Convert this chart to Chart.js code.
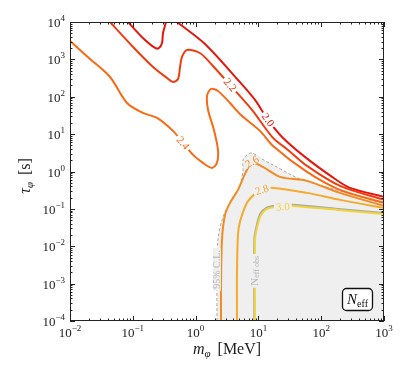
<!DOCTYPE html>
<html>
<head>
<meta charset="utf-8">
<script src="https://cdn.jsdelivr.net/npm/chart.js@4.4.0/dist/chart.umd.min.js"></script>
<style>
  html, body { margin: 0; padding: 0; background: #fff; }
  #wrap { width: 411px; height: 377px; }
</style>
</head>
<body>
<div id="wrap"><canvas id="myChart" width="411" height="377"></canvas></div>
<script>
// axis ranges (m_phi in MeV, tau_phi in s)
const massRange = [0.01, 1000];
const tauRange = [1e-4, 1e4];
const massTickExp = [-2, -1, 0, 1, 2, 3];
const tauTickExp = [-4, -3, -2, -1, 0, 1, 2, 3, 4];

// N_eff = 2.0, main branch
const c20_m = [0.506, 1.41, 4.73, 8.83, 14.2, 23.8, 55, 149, 288, 1000];
const c20_tau = [1e4, 2580, 281, 82, 24, 8.41, 2.46, 0.718, 0.364, 0.209];
// N_eff = 2.0, small hook at the top
const c20b_m = [0.084, 0.145, 0.226, 0.261, 0.292, 0.303, 0.338];
const c20b_tau = [1e4, 3730, 2020, 2020, 2750, 5080, 1e4];
// N_eff = 2.2
const c22_m = [0.0434, 0.101, 0.21, 0.351, 0.436, 0.525, 0.565, 0.607, 0.729, 1.17, 1.89, 3.53, 7.91, 17.1, 29.6, 59.4, 199, 1000];
const c22_tau = [1e4, 2150, 627, 318, 249, 299, 627, 1160, 1780, 1480, 667, 207, 44.4, 7.9, 3.78, 1.41, 0.412, 0.174];
// N_eff = 2.4
const c24_m = [0.01, 0.0208, 0.0434, 0.081, 0.145, 0.243, 0.436, 0.63, 0.91, 1.31, 1.82, 2.19, 2.27, 1.96, 1.58, 1.52, 1.76, 2.27, 3.53, 5.28, 10.6, 17.1, 59.4, 199, 1000];
const c24_tau = [3100, 1030, 338, 68.2, 36.9, 27.1, 12.2, 5.82, 2.78, 1.7, 1.25, 1.7, 3.78, 12.9, 44.4, 105, 162, 143, 68.2, 32.6, 12.2, 4.83, 0.975, 0.322, 0.145];
// N_eff = 2.6
const c26_m = [2.54, 2.54, 2.63, 2.94, 3.53, 4.73, 6.12, 7.91, 11.8, 22.1, 59.4, 199, 1000];
const c26_tau = [1e-4, 0.00082, 0.0148, 0.069, 0.145, 0.322, 0.862, 1.7, 1.33, 0.718, 0.561, 0.268, 0.12];
// N_eff = 2.8
const c28_m = [4.56, 4.56, 4.73, 5.09, 6.58, 8.83, 11.4, 17.1, 59.4, 199, 1000];
const c28_tau = [1e-4, 0.00195, 0.0202, 0.045, 0.145, 0.252, 0.322, 0.364, 0.268, 0.174, 0.106];
// N_eff = 3.0
const c30_m = [8.83, 8.83, 9.5, 11.0, 13.7, 18.4, 34.3, 185, 1000];
const c30_tau = [1e-4, 0.0148, 0.031, 0.069, 0.1, 0.113, 0.12, 0.094, 0.0734];
// observed N_eff line
const obs_m = [8.6, 8.6, 9.25, 10.7, 13.4, 18.2, 34.3, 185, 1000];
const obs_tau = [1e-4, 0.0148, 0.032, 0.074, 0.107, 0.121, 0.128, 0.1, 0.078];
// 95% C.L. boundary
const cl_m = [2.19, 2.19, 2.27, 2.73, 3.94, 5.09, 5.69, 5.69, 6.58, 7.91, 10.6, 17.1, 45.9, 199, 1000];
const cl_tau = [1e-4, 0.00105, 0.0148, 0.061, 0.209, 0.412, 1.1, 2.04, 2.78, 3.14, 2.31, 1.5, 0.634, 0.303, 0.136];

// inline contour labels
const labelText = ["2.0", "2.2", "2.4", "2.6", "2.8", "3.0"];
const labelM = [14.2, 3.53, 0.63, 7.91, 11.4, 24.6];
const labelTau = [24, 207, 5.8, 1.81, 0.322, 0.113];

const colors = {
  c20: "#e4170f",
  c22: "#ef3d10",
  c24: "#f86a14",
  c26: "#f38b20",
  c28: "#f4aa2c",
  c30: "#f1d43a",
  gray: "#a9a9a9",
  fill: "#efefef"
};
const labelAngle = [54, 48, 50, -30, -18, -3];
const labelColor = [colors.c20, colors.c22, colors.c24, colors.c26, colors.c28, colors.c30];
const labelBg = ["#fff", "#fff", "#fff", colors.fill, colors.fill, colors.fill];

const serif = '"Liberation Serif", "DejaVu Serif", serif';

function pts(ms, taus) {
  return ms.map((m, i) => ({ x: m, y: taus[i] }));
}

function line(ms, taus, color, extra) {
  return Object.assign({
    data: pts(ms, taus),
    showLine: true,
    borderColor: color,
    borderWidth: 2,
    pointRadius: 0,
    tension: 0.3,
    fill: false
  }, extra || {});
}

function richWidth(ctx, parts) {
  let w = 0;
  parts.forEach((p) => { ctx.font = p.font; w += ctx.measureText(p.text).width; });
  return w;
}
function drawRich(ctx, parts, x, y) {
  parts.forEach((p) => {
    ctx.font = p.font;
    ctx.fillText(p.text, x, y + (p.dy || 0));
    x += ctx.measureText(p.text).width + (p.gap || 0);
  });
}
function powParts(e) {
  const s = e < 0 ? "\u2212" + Math.abs(e) : String(e);
  return [
    { text: "10", font: "13px " + serif },
    { text: s, font: "9px " + serif, dy: -6 }
  ];
}

const overlay = {
  id: "overlay",
  afterDatasetsDraw(chart) {
    const { ctx, scales: { x, y } } = chart;
    ctx.save();
    ctx.textAlign = "center";
    ctx.textBaseline = "middle";
    labelText.forEach((t, i) => {
      const px = x.getPixelForValue(labelM[i]);
      const py = y.getPixelForValue(labelTau[i]);
      ctx.save();
      ctx.translate(px, py);
      ctx.rotate(labelAngle[i] * Math.PI / 180);
      ctx.font = "11px " + serif;
      const w = ctx.measureText(t).width;
      ctx.fillStyle = labelBg[i];
      ctx.fillRect(-w / 2 - 2, -3.5, w + 4, 7);
      ctx.fillStyle = labelColor[i];
      ctx.fillText(t, 0, 0.5);
      ctx.restore();
    });

    // vertical notes in the shaded region
    const notes = [
      { parts: [{ text: "95% C.L.", font: "10px " + serif }], m: 2.19, tau: 0.0024 },
      { parts: [{ text: "N", font: "11px " + serif }, { text: "eff obs", font: "8px " + serif, dy: 2 }], m: 8.55, tau: 0.0022 }
    ];
    ctx.textAlign = "left";
    notes.forEach((n) => {
      const px = x.getPixelForValue(n.m);
      const py = y.getPixelForValue(n.tau);
      const w = richWidth(ctx, n.parts);
      ctx.save();
      ctx.translate(px, py);
      ctx.rotate(-Math.PI / 2);
      ctx.fillStyle = colors.fill;
      ctx.fillRect(-w / 2 - 2, -4, w + 4, 8);
      ctx.fillStyle = "#b4b4b4";
      drawRich(ctx, n.parts, -w / 2, 0.5);
      ctx.restore();
    });
    ctx.restore();
  },
  afterDraw(chart) {
    const { ctx, chartArea: a, scales: { x, y } } = chart;
    ctx.save();
    ctx.strokeStyle = "#222";
    ctx.lineWidth = 1;
    ctx.strokeRect(a.left + 0.5, a.top + 0.5, a.right - a.left - 1, a.bottom - a.top - 1);

    // inward ticks on all four sides
    ctx.beginPath();
    const tick = (px, len, horiz) => {
      if (horiz) {
        ctx.moveTo(px, a.bottom); ctx.lineTo(px, a.bottom - len);
        ctx.moveTo(px, a.top); ctx.lineTo(px, a.top + len);
      } else {
        ctx.moveTo(a.left, px); ctx.lineTo(a.left + len, px);
        ctx.moveTo(a.right, px); ctx.lineTo(a.right - len, px);
      }
    };
    massTickExp.forEach((e) => {
      const px = Math.round(x.getPixelForValue(Math.pow(10, e))) + 0.5;
      tick(px, 5, true);
      if (e < 3) for (let k = 2; k < 10; k++) tick(Math.round(x.getPixelForValue(k * Math.pow(10, e))) + 0.5, 2.5, true);
    });
    tauTickExp.forEach((e) => {
      const py = Math.round(y.getPixelForValue(Math.pow(10, e))) + 0.5;
      tick(py, 5, false);
      if (e < 4) for (let k = 2; k < 10; k++) tick(Math.round(y.getPixelForValue(k * Math.pow(10, e))) + 0.5, 2.5, false);
    });
    ctx.stroke();

    // tick labels
    ctx.fillStyle = "#222";
    ctx.textAlign = "left";
    ctx.textBaseline = "alphabetic";
    massTickExp.forEach((e) => {
      const parts = powParts(e);
      const w = richWidth(ctx, parts);
      drawRich(ctx, parts, x.getPixelForValue(Math.pow(10, e)) - w / 2, 337);
    });
    tauTickExp.forEach((e) => {
      const parts = powParts(e);
      const w = richWidth(ctx, parts);
      drawRich(ctx, parts, a.left - 5 - w, y.getPixelForValue(Math.pow(10, e)) + 5);
    });

    // axis titles
    const xt = [
      { text: "m", font: "italic 16px " + serif },
      { text: "\u03c6", font: "italic 11px " + serif, dy: 3, gap: 7 },
      { text: "[MeV]", font: "16px " + serif }
    ];
    const xw = richWidth(ctx, xt) + 7;
    drawRich(ctx, xt, 227 - xw / 2, 354);

    const yt = [
      { text: "\u03c4", font: "italic 16px " + serif },
      { text: "\u03c6", font: "italic 11px " + serif, dy: 3, gap: 7 },
      { text: "[s]", font: "16px " + serif }
    ];
    const yw = richWidth(ctx, yt) + 7;
    ctx.save();
    ctx.translate(30, 176);
    ctx.rotate(-Math.PI / 2);
    drawRich(ctx, yt, -yw / 2, 0);
    ctx.restore();

    // N_eff box
    ctx.beginPath();
    ctx.roundRect(342.5, 288.5, 30, 22, 4);
    ctx.fillStyle = "#fff";
    ctx.fill();
    ctx.lineWidth = 1.3;
    ctx.strokeStyle = "#111";
    ctx.stroke();
    ctx.fillStyle = "#111";
    const bt = [
      { text: "N", font: "italic 15px " + serif },
      { text: "eff", font: "10px " + serif, dy: 3 }
    ];
    const bw = richWidth(ctx, bt);
    drawRich(ctx, bt, 357.5 - bw / 2, 304);
    ctx.restore();
  }
};

const ctx = document.getElementById("myChart");
new Chart(ctx, {
  type: "scatter",
  data: {
    datasets: [
      line(c30_m, c30_tau, colors.c30, { order: 1 }),
      line(obs_m, obs_tau, colors.gray, { order: 2, borderWidth: 2 }),
      line(c28_m, c28_tau, colors.c28, { order: 1 }),
      line(c26_m, c26_tau, colors.c26, { order: 1 }),
      line(c24_m, c24_tau, colors.c24, { order: 1 }),
      line(c22_m, c22_tau, colors.c22, { order: 1 }),
      line(c20_m, c20_tau, colors.c20, { order: 1 }),
      line(c20b_m, c20b_tau, colors.c20, { order: 1 }),
      line(cl_m, cl_tau, colors.gray, {
        order: 10,
        borderWidth: 1,
        borderDash: [3, 2],
        fill: "start",
        backgroundColor: colors.fill
      })
    ]
  },
  options: {
    responsive: false,
    animation: false,
    events: [],
    layout: { padding: { top: 22, right: 27, left: 0, bottom: 0 } },
    plugins: {
      legend: { display: false },
      tooltip: { enabled: false },
      filler: { drawTime: "beforeDatasetsDraw" }
    },
    scales: {
      x: {
        type: "logarithmic",
        min: massRange[0],
        max: massRange[1],
        ticks: { display: false },
        grid: { display: false },
        border: { display: false },
        afterFit: (s) => { s.height = 56; }
      },
      y: {
        type: "logarithmic",
        min: tauRange[0],
        max: tauRange[1],
        ticks: { display: false },
        grid: { display: false },
        border: { display: false },
        afterFit: (s) => { s.width = 70; }
      }
    }
  },
  plugins: [overlay]
});
</script>
</body>
</html>
